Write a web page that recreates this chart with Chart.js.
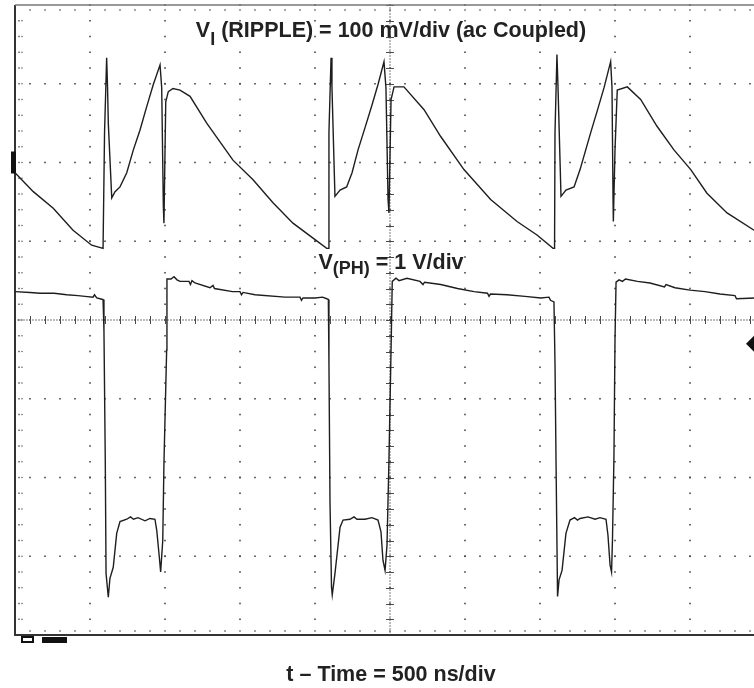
<!DOCTYPE html>
<html>
<head>
<meta charset="utf-8">
<script src="https://cdn.jsdelivr.net/npm/chart.js"></script>
<style>
  html, body { margin: 0; padding: 0; background: #fff; overflow: hidden; }
  #wrap { position: relative; width: 754px; height: 688px; overflow: hidden; }
  #scope { position: absolute; left: 0; top: 0; }
  .lbl {
    position: absolute; left: 0; width: 782px; text-align: center;
    font-family: "Liberation Sans", Arial, sans-serif; font-weight: bold;
    font-size: 21.5px; line-height: 21.5px; color: #222; white-space: nowrap;
  }
  .lbl .sub { font-size: 18px; position: relative; }
</style>
</head>
<body>
<div id="wrap">
  <canvas id="scope" width="770" height="688"></canvas>
  <div class="lbl" style="top:20px">V<span class="sub" style="top:8px">I</span> (RIPPLE) = 100 mV/div (ac Coupled)</div>
  <div class="lbl" style="top:252px">V<span class="sub" style="top:5px">(PH)</span> = 1 V/div</div>
  <div class="lbl" style="top:664px">t – Time = 500 ns/div</div>
</div>

<script>
// screen: 10 x 8 divisions
const NS_PER_DIV = 500;
const X_DIVS = 10;
const Y_DIVS = 8;
const MV_PER_DIV = 100;   // ch1 ripple
const V_PER_DIV = 1;      // ch2 phase node
const RIPPLE_GND_DIV = 2; // ch1 ground marker, divs above centre
const PH_GND_DIV = -2;    // ch2 ground, divs below centre
const TRIGGER_DIV = -0.3;

// ch1: V_I ripple (mV, ac coupled)
const rippleT = [0, 122, 255, 387, 511, 587, 593, 597, 611, 617, 622, 645, 667, 700, 745, 789, 833, 878, 922, 967,
  978, 989, 993, 1005, 1022, 1053, 1100, 1167, 1278, 1453, 1587, 1720, 1853, 1987, 2078,
  2090, 2093, 2107, 2113, 2133, 2167, 2211, 2247, 2287, 2333, 2380, 2420, 2460,
  2473, 2487, 2493, 2507, 2527, 2593, 2727, 2838, 2993, 3171, 3347, 3480, 3587,
  3597, 3600, 3613, 3620, 3640, 3673, 3727, 3767, 3838, 3887, 3927, 3971,
  3980, 3987, 3989, 4000, 4015, 4082, 4171, 4280, 4393, 4505, 4613, 4747, 4935];
const rippleMv = [-13, -37, -58, -86, -105, -109, -109, 38, 133, 96, 50, -45, -37, -31, -13, 16, 41, 71, 99, 124,
  95, -56, -77, 77, 90, 94, 92, 84, 50, 3, -22, -51, -77, -96, -109,
  -109, 38, 133, 96, -43, -35, -31, -13, 16, 44, 73, 99, 128,
  95, -47, -64, 80, 96, 96, 67, 33, -9, -47, -75, -92, -109,
  -109, 38, 137, 96, -43, -35, -31, -9, 38, 69, 95, 128,
  95, -47, -75, 16, 92, 96, 80, 46, 16, -9, -39, -64, -87];

// ch2: V(PH) switch node (V)
const phT = [0, 100, 167, 260, 345, 420, 467, 520, 530, 545, 567, 587, 593, 602, 607, 622, 633, 655, 678, 700,
  745, 770, 790, 820, 867, 900, 933, 945, 962, 971, 985, 993, 1011,
  1013, 1040, 1060, 1080, 1100, 1160, 1170, 1180, 1200, 1300, 1320, 1330, 1450, 1500, 1510, 1520, 1600, 1800,
  1900, 1910, 1920, 2000, 2050, 2078,
  2089, 2093, 2100, 2110, 2115, 2133, 2167, 2187, 2233, 2260, 2280, 2333, 2380, 2420, 2440, 2453, 2467, 2480, 2493, 2507,
  2515, 2540, 2560, 2613, 2700, 2720, 2730, 2838, 2950, 3060, 3150, 3160, 3170, 3280, 3400, 3505, 3560, 3570, 3593,
  3600, 3607, 3617, 3627, 3647, 3673, 3700, 3730, 3750, 3767, 3820, 3867, 3900, 3940, 3953, 3967, 3977, 3983, 3993, 4000,
  4007, 4027, 4050, 4070, 4150, 4233, 4330, 4340, 4400, 4500, 4600, 4700, 4800, 4810, 4935];
const phV = [2.36, 2.35, 2.34, 2.34, 2.32, 2.31, 2.30, 2.29, 2.32, 2.28, 2.27, 2.26, 1.87, 0.18, -1.22, -1.52, -1.28, -1.14, -0.71, -0.56,
  -0.53, -0.50, -0.53, -0.51, -0.55, -0.52, -0.53, -0.67, -1.01, -1.20, -0.80, 0.18, 1.62,
  2.52, 2.52, 2.55, 2.51, 2.49, 2.49, 2.45, 2.50, 2.47, 2.41, 2.44, 2.40, 2.36, 2.36, 2.32, 2.35, 2.32, 2.29,
  2.29, 2.25, 2.28, 2.28, 2.29, 2.27,
  2.26, 1.45, -0.31, -1.39, -1.49, -1.22, -0.63, -0.54, -0.53, -0.50, -0.53, -0.53, -0.51, -0.54, -0.69, -1.05, -1.18, -0.86, 0.22, 1.62,
  2.49, 2.53, 2.50, 2.53, 2.49, 2.45, 2.48, 2.45, 2.40, 2.36, 2.34, 2.30, 2.33, 2.32, 2.30, 2.28, 2.29, 2.25, 2.23,
  1.45, 0.18, -1.51, -1.30, -1.18, -0.71, -0.54, -0.51, -0.54, -0.52, -0.50, -0.53, -0.51, -0.53, -0.73, -1.11, -1.20, -0.80, 0.27, 1.75,
  2.48, 2.51, 2.49, 2.52, 2.49, 2.47, 2.42, 2.45, 2.41, 2.38, 2.36, 2.33, 2.31, 2.27, 2.28];

const TRACE = '#1e1e1e';

// graticule drawn from the scales
const scopeGrid = {
  id: 'scopeGrid',
  beforeDatasetsDraw(chart) {
    const { ctx, chartArea: a, scales } = chart;
    const x = scales.x, y = scales.y;
    const xDiv = i => x.getPixelForValue(i * NS_PER_DIV);
    const yDiv = j => y.getPixelForValue(j);
    ctx.save();
    ctx.fillStyle = '#4a4a4a';
    const dot = (px, py, s = 1.6) => ctx.fillRect(px - s / 2, py - s / 2, s, s);

    // major lines as dotted lines (5 minor steps per div)
    for (let i = 1; i < X_DIVS; i++) {
      for (let j = 0; j <= Y_DIVS * 5; j++) dot(xDiv(i), yDiv(-Y_DIVS / 2 + j / 5));
    }
    for (let k = 1; k < Y_DIVS; k++) {
      for (let m = 0; m <= X_DIVS * 5; m++) dot(xDiv(m / 5), yDiv(-Y_DIVS / 2 + k));
    }

    // centre cross, dense dots + ticks
    const xc = xDiv(X_DIVS / 2), yc = yDiv(0);
    for (let py = a.top; py <= a.bottom; py += 3) dot(xc, py, 1.2);
    for (let px = a.left; px <= a.right; px += 3) dot(px, yc, 1.2);
    ctx.strokeStyle = '#4a4a4a';
    ctx.lineWidth = 1;
    ctx.beginPath();
    for (let j = 0; j <= Y_DIVS * 5; j++) {
      const py = Math.round(yDiv(-Y_DIVS / 2 + j / 5)) + 0.5;
      ctx.moveTo(xc - 4, py); ctx.lineTo(xc + 4, py);
    }
    for (let m = 0; m <= X_DIVS * 5; m++) {
      const px = Math.round(xDiv(m / 5)) + 0.5;
      ctx.moveTo(px, yc - 4); ctx.lineTo(px, yc + 4);
    }
    ctx.stroke();

    // ticks along the frame
    for (let j = 1; j < Y_DIVS * 5; j++) {
      const py = yDiv(-Y_DIVS / 2 + j / 5);
      dot(a.left + 4, py, 1.4);
      dot(a.left + 7, py, 1.2);
    }
    for (let m = 1; m < X_DIVS * 5; m++) {
      dot(xDiv(m / 5), a.bottom - 4, 1.4);
      dot(xDiv(m / 5), a.top + 5, 1.4);
    }

    // frame
    ctx.lineWidth = 2;
    ctx.strokeStyle = '#333';
    ctx.beginPath();
    ctx.moveTo(a.left, a.top); ctx.lineTo(a.left, a.bottom + 1);
    ctx.moveTo(a.left, a.bottom); ctx.lineTo(a.right, a.bottom);
    ctx.stroke();
    ctx.lineWidth = 1.5;
    ctx.strokeStyle = '#777';
    ctx.beginPath();
    ctx.moveTo(a.left, a.top); ctx.lineTo(a.right, a.top);
    ctx.stroke();
    ctx.restore();
  },
  afterDraw(chart) {
    const { ctx, chartArea: a, scales } = chart;
    ctx.save();
    ctx.fillStyle = '#111';
    // ch1 ground marker on the left edge
    const g1 = scales.y.getPixelForValue(RIPPLE_GND_DIV);
    ctx.fillRect(a.left - 4, g1 - 11, 5, 22);
    // trigger level diamond on the right
    const tg = scales.y.getPixelForValue(TRIGGER_DIV);
    const tx = a.right - 11;
    ctx.beginPath();
    ctx.moveTo(tx - 8, tg); ctx.lineTo(tx, tg - 8); ctx.lineTo(tx + 8, tg); ctx.lineTo(tx, tg + 8);
    ctx.closePath();
    ctx.fill();
    // clipped readout boxes under the frame
    ctx.fillRect(a.left + 27, a.bottom + 2, 25, 6);
    ctx.strokeStyle = '#111';
    ctx.lineWidth = 2;
    ctx.strokeRect(a.left + 7, a.bottom + 2, 11, 5);
    ctx.restore();
  }
};

const pts = (xs, ys) => xs.map((t, i) => ({ x: t, y: ys[i] }));

new Chart(document.getElementById('scope'), {
  type: 'line',
  data: {
    datasets: [
      {
        label: 'V_I (RIPPLE)',
        data: pts(rippleT, rippleMv),
        yAxisID: 'yR',
        borderColor: TRACE,
        borderWidth: 1.4,
        pointRadius: 0,
        tension: 0
      },
      {
        label: 'V(PH)',
        data: pts(phT, phV),
        yAxisID: 'yP',
        borderColor: TRACE,
        borderWidth: 1.4,
        pointRadius: 0,
        tension: 0
      }
    ]
  },
  options: {
    responsive: false,
    animation: false,
    devicePixelRatio: 1,
    layout: { padding: { left: 15, top: 5, right: 5, bottom: 53 } },
    plugins: { legend: { display: false }, tooltip: { enabled: false } },
    scales: {
      x: { type: 'linear', min: 0, max: X_DIVS * NS_PER_DIV, display: false },
      y: { min: -Y_DIVS / 2, max: Y_DIVS / 2, display: false },
      yR: {
        min: (-Y_DIVS / 2 - RIPPLE_GND_DIV) * MV_PER_DIV,
        max: (Y_DIVS / 2 - RIPPLE_GND_DIV) * MV_PER_DIV,
        display: false
      },
      yP: {
        min: (-Y_DIVS / 2 - PH_GND_DIV) * V_PER_DIV,
        max: (Y_DIVS / 2 - PH_GND_DIV) * V_PER_DIV,
        display: false
      }
    }
  },
  plugins: [scopeGrid]
});
</script>
</body>
</html>
